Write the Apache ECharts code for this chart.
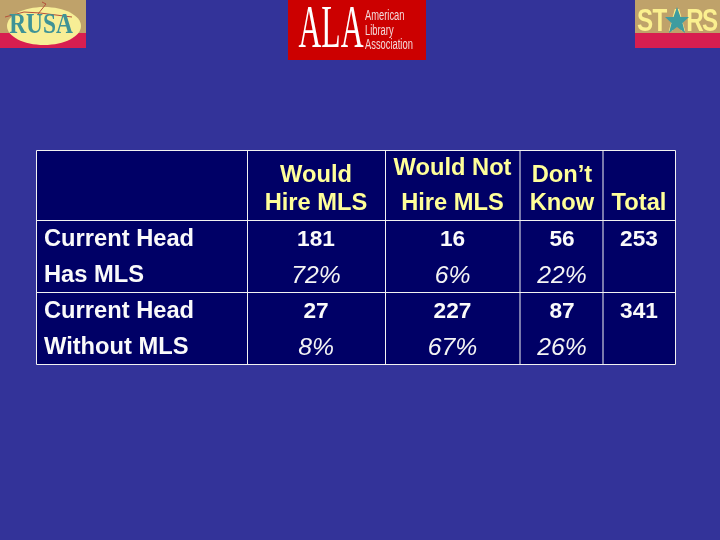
<!DOCTYPE html>
<html><head><meta charset="utf-8">
<style>html,body{margin:0;padding:0;background:#333399}#c{width:720px;height:540px}</style>
<script src="https://cdn.jsdelivr.net/npm/echarts@6/dist/echarts.min.js"></script>
</head><body><div id="c"></div>
<script>
var rowLabels = ["Current Head","Has MLS","Current Head","Without MLS"];
var headerLines = [["Would","Hire MLS"],["Would Not","Hire MLS"],["Don\u2019t","Know"],["Total"]];
var counts = [[181,16,56,253],[27,227,87,341]];
var percents = [["72%","6%","22%",""],["8%","67%","26%",""]];

var colX = [316,452.5,562,639];
var vLines = [36.5,247.5,385.5,520,603,675.5];
var hLines = [150.5,220.5,292.5,364.5];
var rowY = [240,276,312,348];
var headerY = [[176,204],[169,204],[176,204],[204]];
var FONT = '"Liberation Sans",Arial,sans-serif';
var SERIF = '"Liberation Serif","Times New Roman",serif';
var YEL = '#FFFF99';

function txt(x,y,s,o){o=o||{};
  return {type:'text',x:x,y:y,scaleX:o.sx||1,scaleY:o.sy||1,z:o.z||5,
    style:{text:s,fill:o.fill||'#fff',font:(o.style||'bold')+' '+(o.size||22)+'px '+(o.family||FONT),
      align:o.align||'center',verticalAlign:'middle',
      shadowColor:o.shadow||'transparent',shadowBlur:o.shadow?1:0,shadowOffsetX:o.shadow?1:0,shadowOffsetY:o.shadow?1:0}};
}
function rect(x,y,w,h,fill,z){return {type:'rect',z:z||1,shape:{x:x,y:y,width:w,height:h},style:{fill:fill}};}
function line(x1,y1,x2,y2){return {type:'line',z:3,shape:{x1:x1,y1:y1,x2:x2,y2:y2},style:{stroke:'#F2F2F2',lineWidth:1}};}

var g=[];
// table
g.push(rect(vLines[0],hLines[0],vLines[5]-vLines[0],hLines[3]-hLines[0],'#000066'));
vLines.forEach(function(x){g.push(line(x,hLines[0],x,hLines[3]));});
hLines.forEach(function(y){g.push(line(vLines[0],y,vLines[5],y));});
headerLines.forEach(function(ls,c){ls.forEach(function(s,i){
  g.push(txt(colX[c],headerY[c][i],s,{fill:YEL,shadow:'#333300',size:23,sx:1.03}));
});});
rowLabels.forEach(function(s,r){g.push(txt(44,rowY[r],s,{align:'left',size:23,sx:1.03,fill:'#FAFAFA'}));});
counts.forEach(function(row,r){row.forEach(function(v,c){g.push(txt(colX[c],rowY[r*2],String(v),{sx:1.03,fill:'#FAFAFA'}));});});
percents.forEach(function(row,r){row.forEach(function(v,c){
  if(v) g.push(txt(colX[c],rowY[r*2+1],v,{style:'italic',fill:'#F4F4F4',size:24,sx:1.03}));
});});
// RUSA logo
g.push(rect(0,0,86,33,'#BFA26A'));
g.push(rect(0,33,86,15,'#D81E50'));
g.push({type:'ellipse',z:2,shape:{cx:44,cy:26,rx:37,ry:19},style:{fill:'#F7EE96'}});
g.push({type:'polyline',z:3,shape:{points:[[5,17],[24,12],[40,13],[72,17]]},style:{stroke:'#B5503A',lineWidth:1,fill:'none'}});
g.push({type:'polyline',z:3,shape:{points:[[38,14],[46,4],[42,2]]},style:{stroke:'#B5503A',lineWidth:1,fill:'none'}});
g.push(txt(41,25,'RUSA',{family:SERIF,style:'bold',size:30,fill:'#3F9396',sx:0.78}));
// ALA logo
g.push(rect(288,0,138,60,'#CC0000'));
g.push(txt(331,31,'ALA',{family:SERIF,style:'normal',size:44,sy:1.4,sx:0.72}));
g.push(txt(365,16,'American',{align:'left',style:'normal',size:12,sx:0.78,sy:1.15,fill:'#F3D9D9'}));
g.push(txt(365,31,'Library',{align:'left',style:'normal',size:12,sx:0.78,sy:1.15,fill:'#F3D9D9'}));
g.push(txt(365,45,'Association',{align:'left',style:'normal',size:12,sx:0.78,sy:1.15,fill:'#F3D9D9'}));
// STARS logo
g.push(rect(635,0,85,33,'#BFA26A'));
g.push(rect(635,33,85,15,'#D81E50'));
[['S',645],['T',660],['A',677],['R',695],['S',710]].forEach(function(l){
  g.push(txt(l[1],22,l[0],{size:31,fill:'#FBF08F',sx:0.78,shadow:'#6b5a30'}));
});
g.push({type:'polygon',z:6,shape:{points:[[677,7],[680.5,17],[689,17],[682.5,23],[685,33],[677,27],[669,33],[671.5,23],[665,17],[673.5,17]]},style:{fill:'#3E9CA0'}});

var chart=echarts.init(document.getElementById('c'),null,{renderer:'canvas'});
chart.setOption({backgroundColor:'#333399',animation:false,graphic:{elements:g}});
</script></body></html>
